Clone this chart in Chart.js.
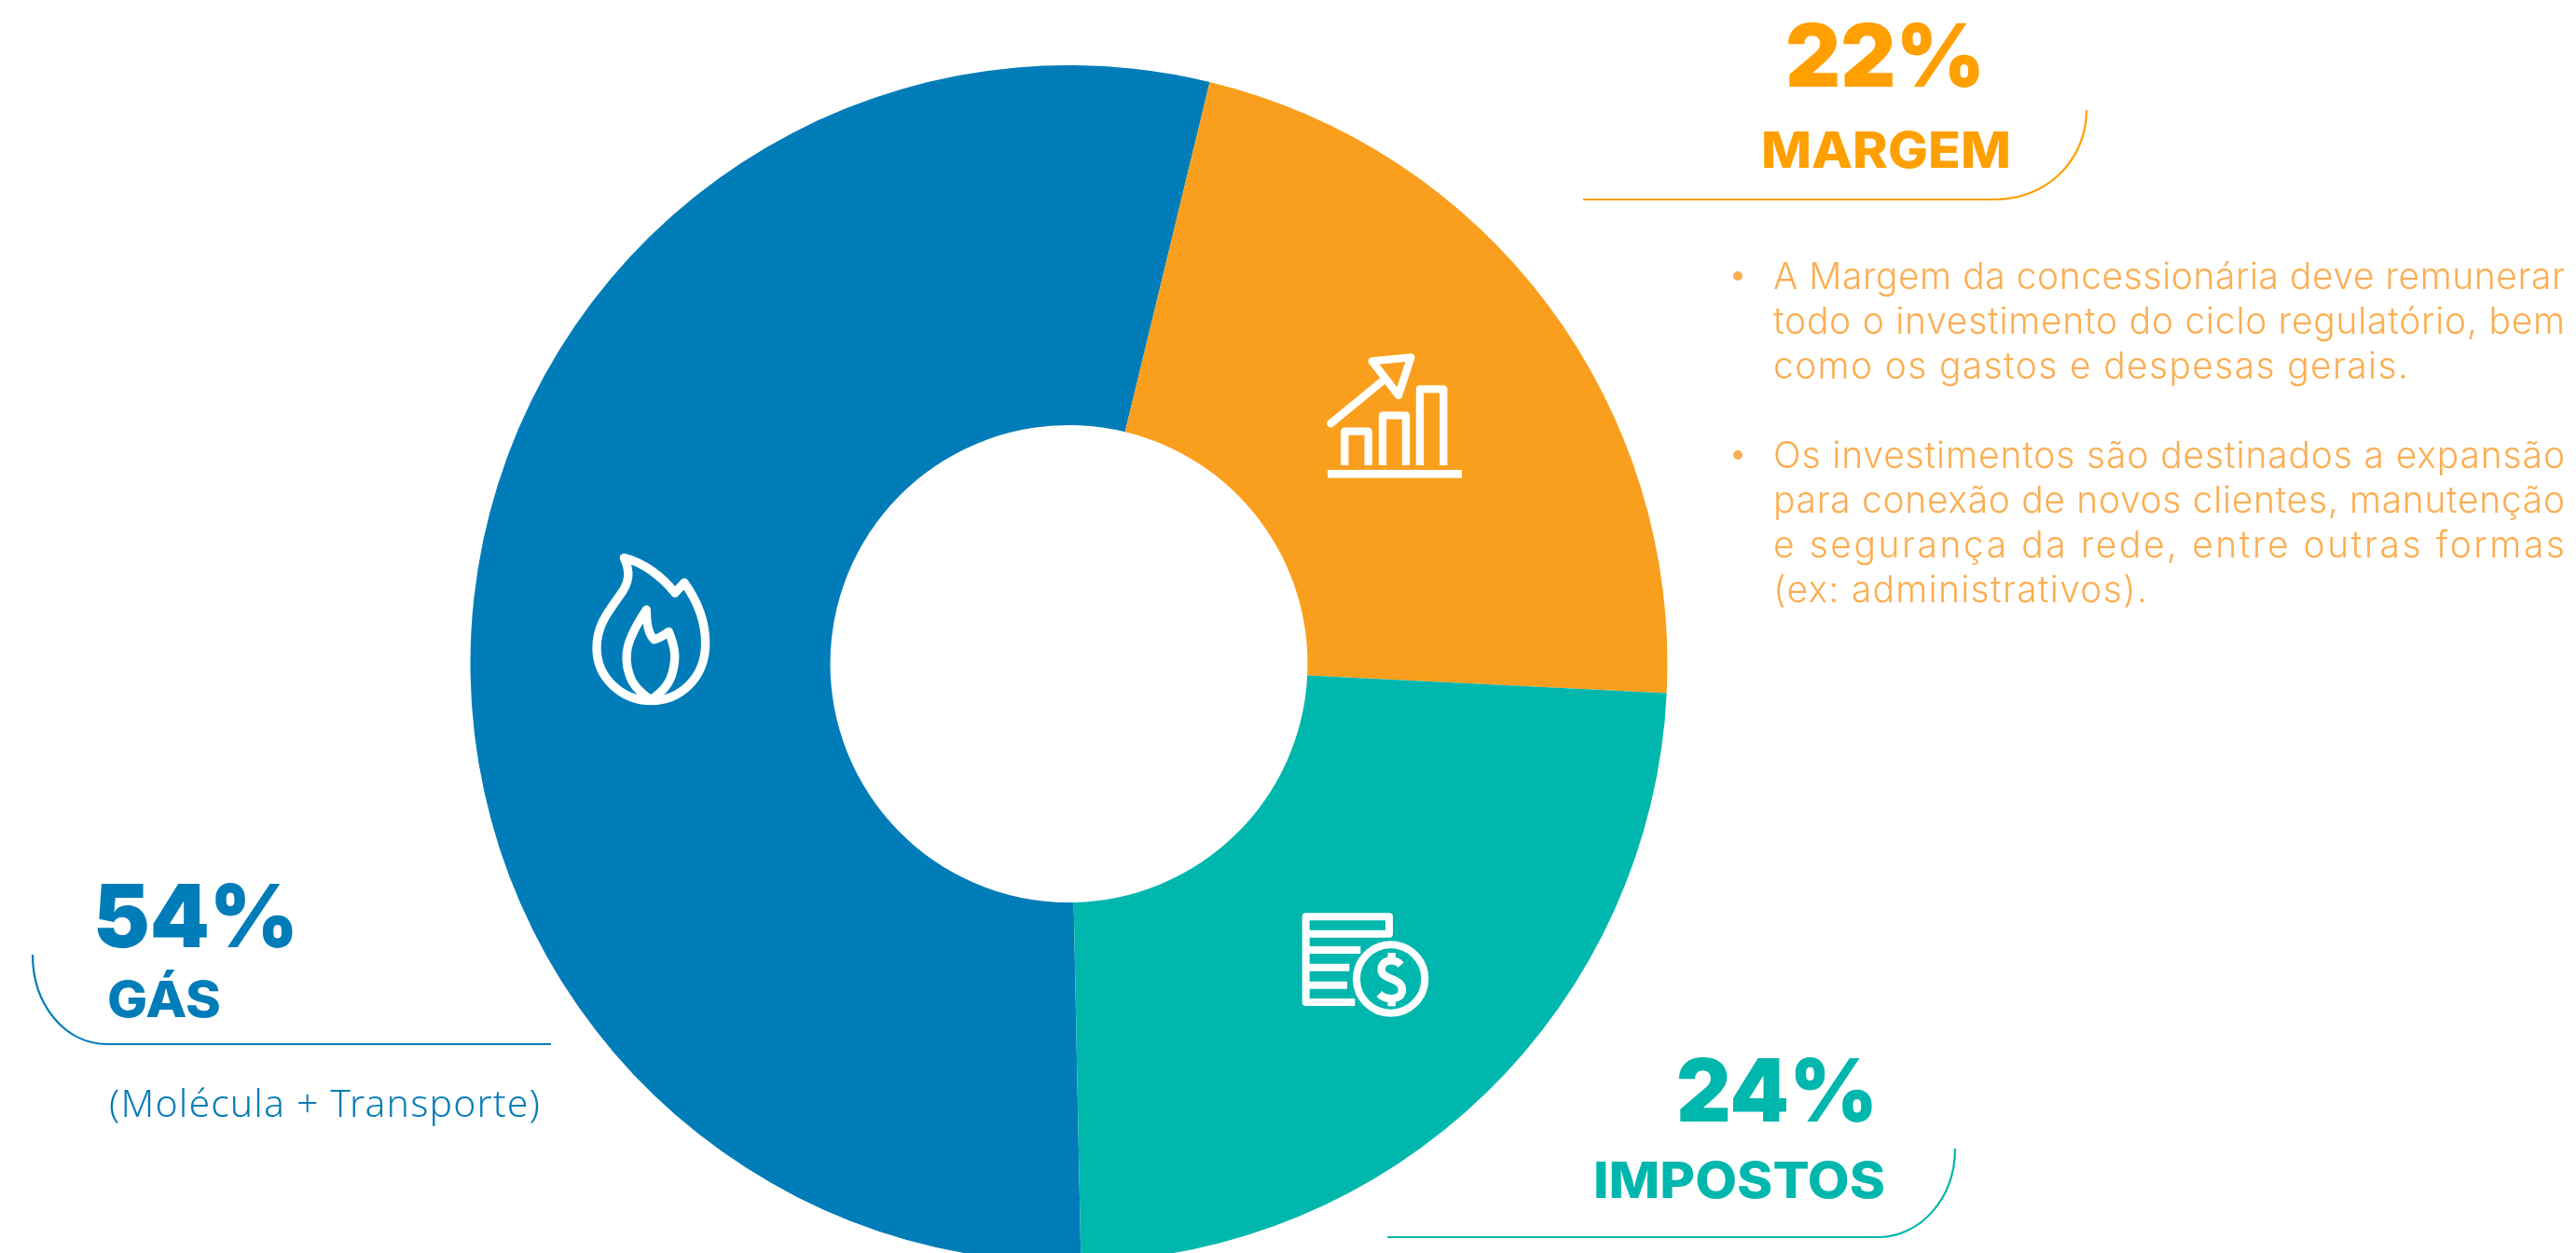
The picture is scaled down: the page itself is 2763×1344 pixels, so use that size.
<!DOCTYPE html>
<html lang="pt"><head><meta charset="utf-8"><title>Composição da tarifa</title>
<script src="https://cdn.jsdelivr.net/npm/chart.js@4"></script>
<style>
html,body{margin:0;padding:0;background:#fff;width:2763px;height:1344px;overflow:hidden}
#wrap{position:absolute;left:0;top:0;width:2763px;height:1344px;overflow:hidden}
canvas{position:absolute;left:0;top:0}
svg{position:absolute;left:0;top:0}
text{font-family:Inter,"Noto Sans",sans-serif}
.big{font-weight:900;font-size:94px}
.cat{font-weight:800;font-size:54px}
.body{font-weight:300;font-size:39px;fill:#FBAE52}
.note{font-family:"Noto Sans",sans-serif;font-weight:300;font-size:41px;fill:#0A7DB8}
.ico{fill:none;stroke:#fff;stroke-linejoin:round;stroke-linecap:round}
</style></head><body>
<div id="wrap"><canvas id="c" width="2763" height="1354"></canvas>
<svg id="s" width="2763" height="1344" viewBox="0 0 2763 1344" xmlns="http://www.w3.org/2000/svg">
<g fill="none" stroke-width="2.2">
<path stroke="#FF9F00" d="M1698 214H2140C2195 214 2238 172 2238 118"/>
<path stroke="#00B7AE" d="M1488 1327H2015C2060 1327 2097 1285 2097 1232"/>
<path stroke="#007DB8" d="M591 1120H115C70 1120 35 1078 35 1024"/>
</g>
<g id="labels"></g>
<circle cx="1864" cy="296" r="5" fill="#FBAE52"/><circle cx="1864" cy="488" r="5" fill="#FBAE52"/>
<g id="paras"></g>
<g class="ico" transform="translate(610 580) scale(.3333)" stroke-width="28">
<path d="M178 55C240 70 300 115 342 168L372 135C415 195 440 260 440 330C440 440 360 515 265 515C170 515 90 440 90 345C90 270 130 225 165 175C195 135 200 100 178 55Z"/>
<path d="M250 222C250 260 255 300 275 318C290 315 305 305 322 293C345 350 345 380 335 420C325 465 295 490 265 512C230 490 205 465 195 430C175 370 185 320 250 222Z"/>
</g>
<g class="ico" transform="translate(1380 360) scale(.3333)" stroke-width="25">
<path stroke-linecap="butt" d="M187 417V308H263V417M309 417V257H384V417M429 417V172H505V417"/>
<path d="M142 283L310 145"/>
<path d="M275 82L400 70L360 192Z"/>
</g>
<rect x="1424" y="504" width="144" height="8.7" fill="#fff"/>
<g class="ico" transform="translate(1370 960) scale(.3333)" stroke-width="24">
<path stroke-linecap="butt" d="M268 177H92M232 233H92M225 290H92M250 345H92V70H360V125H92"/>
<circle cx="365" cy="270" r="110"/>
<path stroke-width="25" stroke-linecap="butt" d="M398 225C380 205 335 205 335 240C335 275 402 265 402 305C402 340 350 340 328 318M368 186V208M368 336V358"/>
</g>
</svg></div>
<script>
const categories = ["GÁS", "MARGEM", "IMPOSTOS"];
const values = [54.1, 22, 23.9];
const colors = ["#007DB8", "#FA9F1D", "#00B7AE"];
const textColors = ["#007DB8", "#FF9F00", "#00B7AE"];
const noteText = "(Molécula + Transporte)";
const margemLines = [
  "A Margem da concessionária deve remunerar",
  "todo o investimento do ciclo regulatório, bem",
  "como os gastos e despesas gerais.",
  "Os investimentos são destinados a expansão",
  "para conexão de novos clientes, manutenção",
  "e segurança da rede, entre outras formas",
  "(ex: administrativos)."
];

new Chart(document.getElementById("c"), {
  type: "doughnut",
  data: { labels: categories, datasets: [{ data: values, backgroundColor: colors, borderWidth: 0 }] },
  options: {
    responsive: false, animation: false, rotation: 178.85, cutout: 256,
    layout: { padding: { left: 504.5, right: 974.5, top: 70, bottom: 0 } },
    plugins: { legend: { display: false }, tooltip: { enabled: false } }
  }
});

const NS = "http://www.w3.org/2000/svg";
function addText(parent, str, cls, x, y, len, adj, fill) {
  const t = document.createElementNS(NS, "text");
  t.setAttribute("class", cls); t.setAttribute("x", x); t.setAttribute("y", y);
  t.setAttribute("textLength", len); t.setAttribute("lengthAdjust", adj);
  if (fill) t.setAttribute("fill", fill);
  t.textContent = str; parent.appendChild(t);
}
const L = document.getElementById("labels");
const bigBox = [[100, 1016, 220], [1915, 93, 214], [1798, 1203, 216]];
const catBox = [[115, 1091, 122], [1889, 180, 268], [1709, 1285, 313]];
values.forEach((v, i) => {
  addText(L, Math.round(v) + "%", "big", bigBox[i][0], bigBox[i][1], bigBox[i][2], "spacingAndGlyphs", textColors[i]);
  addText(L, categories[i], "cat", catBox[i][0], catBox[i][1], catBox[i][2], "spacingAndGlyphs", textColors[i]);
});
addText(L, noteText, "note", 117, 1198, 462, "spacing");
const P = document.getElementById("paras");
const baselines = [310, 358, 406, 502, 550, 598, 646];
const rights = [2751, 2751, 2583, 2751, 2751, 2751, 2303];
margemLines.forEach((s, i) => addText(P, s, "body", 1902, baselines[i], rights[i] - 1902, "spacing"));
</script>
</body></html>
